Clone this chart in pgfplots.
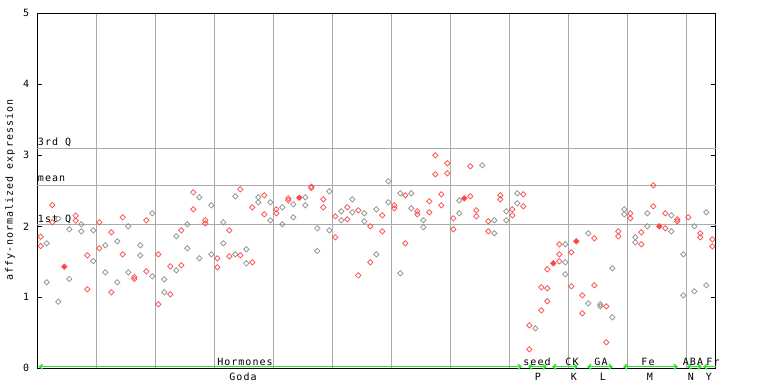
\documentclass[border=0pt]{standalone}
\usepackage{fontspec}
\setmainfont{DejaVu Sans Mono}[LetterSpace=10]
\usepackage{pgfplots}
\usepackage{pgfplotstable}
\pgfplotsset{compat=1.18}
\usetikzlibrary{arrows.meta}
\definecolor{ptred}{RGB}{255,70,70}
\definecolor{ptgray}{RGB}{140,140,140}
\definecolor{gridgray}{RGB}{170,170,170}
\definecolor{arrgreen}{RGB}{40,230,40}

% red samples
\pgfplotstableread{
x y
40.7 1.854
40.7 1.722
52.3 2.300
52.3 2.056
75.7 2.150
75.7 2.079
87.3 1.591
87.3 1.112
99.3 2.056
99.3 1.690
111.3 1.915
111.3 1.070
122.7 2.126
122.7 1.605
134.3 1.286
134.3 1.258
146.3 2.084
146.3 1.366
158.3 1.605
158.3 0.901
170.3 1.436
170.3 1.042
181.3 1.943
181.3 1.450
193.3 2.478
193.3 2.239
205.3 2.084
205.3 2.042
217.3 1.549
217.3 1.422
229.3 1.943
229.3 1.577
240.3 2.521
240.3 1.591
252.3 2.267
252.3 1.493
264.3 2.436
264.3 2.169
276.3 2.239
276.3 2.183
288.3 2.394
288.3 2.366
311.3 2.558
311.3 2.540
323.3 2.380
323.3 2.267
335.3 2.141
335.3 1.845
347.3 2.267
347.3 2.098
358.3 2.225
358.3 1.309
370.3 2.000
370.3 1.493
382.3 2.155
382.3 1.929
394.3 2.295
394.3 2.253
405.3 2.436
405.3 1.760
417.3 2.211
417.3 2.169
429.3 2.352
429.3 2.197
435.3 3.000
435.3 2.732
441.3 2.450
441.3 2.295
447.3 2.887
447.3 2.746
453.3 2.112
453.3 1.957
470.3 2.845
470.3 2.422
476.3 2.225
476.3 2.141
488.3 2.070
488.3 1.929
500.3 2.436
500.3 2.380
512.3 2.239
512.3 2.155
523.3 2.450
523.3 2.281
529.3 0.605
529.3 0.267
541.3 1.141
541.3 0.817
547.3 1.394
547.3 1.127
547.3 0.944
559.3 1.746
559.3 1.606
559.3 1.507
571.3 1.634
571.3 1.155
582.3 1.028
582.3 0.775
594.3 1.831
594.3 1.169
606.3 0.873
606.3 0.366
618.3 1.930
618.3 1.859
630.3 2.183
630.3 2.113
641.3 1.915
641.3 1.746
653.3 2.577
653.3 2.282
665.3 2.183
665.3 1.972
677.3 2.098
677.3 2.070
688.3 2.127
700.3 1.901
700.3 1.845
712.3 1.817
712.3 1.718
}\ptred

% grey samples
\pgfplotstableread{
x y
46.7 1.760
46.7 1.211
58.3 2.107
58.3 0.938
69.3 1.957
69.3 1.258
81.3 2.028
81.3 1.929
93.3 1.943
93.3 1.511
105.3 1.732
105.3 1.352
117.3 1.788
117.3 1.211
128.3 1.999
128.3 1.352
140.3 1.732
140.3 1.591
152.3 2.183
152.3 1.295
164.3 1.253
164.3 1.070
176.3 1.859
176.3 1.380
187.3 2.028
187.3 1.690
199.3 2.408
199.3 1.549
211.3 2.295
211.3 1.605
223.3 2.056
223.3 1.760
235.3 2.422
235.3 1.605
246.3 1.676
246.3 1.478
258.3 2.408
258.3 2.338
270.3 2.338
270.3 2.084
282.3 2.267
282.3 2.028
293.3 2.309
293.3 2.126
305.3 2.408
305.3 2.295
317.3 1.971
317.3 1.652
329.3 2.493
329.3 1.943
341.3 2.211
341.3 2.084
352.3 2.380
352.3 2.197
364.3 2.183
364.3 2.070
376.3 2.239
376.3 1.605
388.3 2.633
388.3 2.338
400.3 2.464
400.3 1.338
411.3 2.464
411.3 2.253
423.3 2.084
423.3 1.985
459.3 2.365
459.3 2.183
482.3 2.859
494.3 2.084
494.3 1.901
506.3 2.211
506.3 2.084
517.3 2.464
517.3 2.323
535.3 0.563
565.3 1.746
565.3 1.493
565.3 1.324
588.3 1.901
588.3 0.915
600.3 0.901
600.3 0.873
612.3 1.408
612.3 0.718
624.3 2.239
624.3 2.169
635.3 1.845
635.3 1.775
647.3 2.183
647.3 2.000
671.3 2.155
671.3 1.930
683.3 1.606
683.3 1.028
694.3 2.000
694.3 1.085
706.3 2.197
706.3 1.169
}\ptgrey

\pgfplotstableread{
x y
64.3 1.431
299.3 2.403
464.3 2.394
553.3 1.479
576.3 1.789
659.3 2.000
}\ptfilled

\begin{document}
\fontsize{10}{12}\selectfont
\begin{tikzpicture}
\useasboundingbox (0,0) rectangle (768pt,384pt);
\begin{axis}[
  at={(37.3pt,15.7pt)}, anchor=south west,
  scale only axis, width=678.4pt, height=355pt,
  xmin=37.3, xmax=715.7, ymin=0, ymax=5,
  xtick={96.3,155.3,214.3,273.3,332.3,391.3,450.3,509.3,568.3,627.3,686.3},
  xticklabels={},
  xmajorgrids,
  ytick={0,1,2,3,4,5},
  extra y ticks={2.028,2.577,3.099},
  extra y tick labels={},
  extra y tick style={grid=major, major tick length=0pt},
  major grid style={gridgray, line width=1pt},
  tick align=inside,
  major tick length=5pt,
  x tick style={draw=none},
  y tick style={black, line width=0.8pt},
  axis line style={black, line width=1pt},
  yticklabel style={font=\fontsize{10}{12}\selectfont, xshift=-4.5pt},
  /pgf/number format/assume math mode=true,
  clip=false,
]
\addplot[only marks, mark=square, mark size=1.9pt,
  mark options={rotate=45, draw=ptgray, fill=ptgray!25, line width=0.7pt}]
  table[x=x, y=y] {\ptgrey};
\addplot[only marks, mark=square, mark size=1.9pt,
  mark options={rotate=45, draw=ptred, fill=ptred!25, line width=0.7pt}]
  table[x=x, y=y] {\ptred};
\addplot[only marks, mark=square*, mark size=1.9pt,
  mark options={rotate=45, draw=ptred, fill=ptred, line width=0.7pt}]
  table[x=x, y=y] {\ptfilled};

% statistic labels
\node[anchor=base west, inner sep=0pt] at (axis cs:37.8,3.099) [yshift=3pt] {3rd Q};
\node[anchor=base west, inner sep=0pt] at (axis cs:37.8,2.577) [yshift=3.5pt] {mean};
\node[anchor=base west, inner sep=0pt] at (axis cs:37.8,2.028) [yshift=2pt] {1st Q};

% y label
\node[rotate=90] at (axis description cs:-0.0402,0.502) {affy-normalized expression};

% category arrows
\begin{scope}[arrgreen, line width=1.4pt]
\draw[{Straight Barb[length=3pt,width=5pt]}-{Straight Barb[length=3pt,width=5pt]}] (axis cs:38.5,0.022) -- (axis cs:522,0.022);
\draw[{Straight Barb[length=3pt,width=5pt]}-{Straight Barb[length=3pt,width=5pt]}] (axis cs:528,0.022) -- (axis cs:547,0.022);
\draw[{Straight Barb[length=3pt,width=5pt]}-{Straight Barb[length=3pt,width=5pt]}] (axis cs:552,0.022) -- (axis cs:578,0.022);
\draw[{Straight Barb[length=3pt,width=5pt]}-{Straight Barb[length=3pt,width=5pt]}] (axis cs:587,0.022) -- (axis cs:613,0.022);
\draw[{Straight Barb[length=3pt,width=5pt]}-{Straight Barb[length=3pt,width=5pt]}] (axis cs:623,0.022) -- (axis cs:678,0.022);
\draw[{Straight Barb[length=3pt,width=5pt]}-{Straight Barb[length=3pt,width=5pt]}] (axis cs:687,0.022) -- (axis cs:702,0.022);
\draw[{Straight Barb[length=3pt,width=5pt]}-] (axis cs:703,0.022) -- (axis cs:715.7,0.022);
\end{scope}

% category labels
\node[anchor=base, inner sep=0pt] at (axis cs:245,0) [yshift=3pt] {Hormones};
\node[anchor=base, inner sep=0pt] at (axis cs:537,0) [yshift=3pt] {seed};
\node[anchor=base, inner sep=0pt] at (axis cs:572,0) [yshift=3pt] {CK};
\node[anchor=base, inner sep=0pt] at (axis cs:601,0) [yshift=3pt] {GA};
\node[anchor=base, inner sep=0pt] at (axis cs:648,0) [yshift=3pt] {Fe};
\node[anchor=base, inner sep=0pt] at (axis cs:693,0) [yshift=3pt] {ABA};
\node[anchor=base, inner sep=0pt] at (axis cs:713,0) [yshift=3pt] {Fr};

\node[anchor=base, inner sep=0pt] at (axis cs:243,0) [yshift=-11.7pt] {Goda};
\node[anchor=base, inner sep=0pt] at (axis cs:538,0) [yshift=-11.7pt] {P};
\node[anchor=base, inner sep=0pt] at (axis cs:574,0) [yshift=-11.7pt] {K};
\node[anchor=base, inner sep=0pt] at (axis cs:603,0) [yshift=-11.7pt] {L};
\node[anchor=base, inner sep=0pt] at (axis cs:650,0) [yshift=-11.7pt] {M};
\node[anchor=base, inner sep=0pt] at (axis cs:691,0) [yshift=-11.7pt] {N};
\node[anchor=base, inner sep=0pt] at (axis cs:709,0) [yshift=-11.7pt] {Y};
\end{axis}
\end{tikzpicture}
\end{document}
